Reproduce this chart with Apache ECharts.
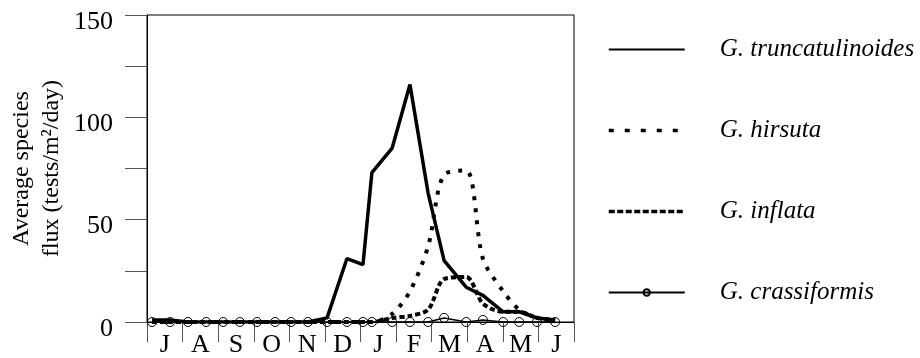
<!DOCTYPE html>
<html>
<head>
<meta charset="utf-8">
<script src="https://cdn.jsdelivr.net/npm/echarts@6/dist/echarts.min.js"></script>
<style>
  html, body { margin: 0; padding: 0; background: #fff; }
  #chart { width: 920px; height: 358px; }
</style>
</head>
<body>
<div id="chart"></div>
<script>
// month labels along the bottom (July .. June)
const months = ['J', 'A', 'S', 'O', 'N', 'D', 'J', 'F', 'M', 'A', 'M', 'J'];
// sampling times, in months since start of July
const sampleTimes = [0.14, 0.65, 1.15, 1.66, 2.14, 2.61, 3.09, 3.6, 4.05, 4.52, 5.06, 5.62,
  6.07, 6.32, 6.89, 7.39, 7.9, 8.35, 8.97, 9.44, 10.01, 10.46, 10.96, 11.47];
const truncatulinoides = [1, 1, 0, 0, 0, 0, 0, 0, 0, 0, 2, 31, 28, 73, 85, 116, 63, 30, 17, 13, 5, 5, 2, 1];
const hirsuta = [0, 0, 0, 0, 0, 0, 0, 0, 0, 0, 0, 0, 0, 0, 4, 15, 37, 72, 74, 31, 15, 6, 2, 0];
const inflata = [0, 0, 0, 0, 0, 0, 0, 0, 0, 0, 0, 0, 0, 0, 2, 3, 6, 21, 22, 9, 5, 5, 2, 1];
const crassiformis = [0, 0, 0, 0, 0, 0, 0, 0, 0, 0, 0, 0, 0, 0, 0, 0, 0, 2, 0, 1, 0, 0, 0, 0];
const yTicks = [0, 50, 100, 150];

const names = ['G. truncatulinoides', 'G. hirsuta', 'G. inflata', 'G. crassiformis'];
const font = 'Liberation Serif, Times New Roman, serif';

const pairs = vals => vals.map((v, i) => [sampleTimes[i], v]);

const chart = echarts.init(document.getElementById('chart'));

const seriesCommon = {
  type: 'line',
  xAxisIndex: 1,
  symbol: 'none',
  animation: false,
  color: '#000',
};
const noSymbol = { color: 'rgba(0,0,0,0)', borderWidth: 0, opacity: 0 };

chart.setOption({
  animation: false,
  grid: {
    left: 147, top: 15, right: 346, bottom: 36,
    outerBoundsMode: 'none',
    show: true, borderColor: '#000', borderWidth: 1,
  },
  legend: {
    orient: 'vertical',
    left: 607, top: 37,
    padding: 0,
    itemWidth: 76, itemHeight: 8, itemGap: 56,
    data: [
      { name: names[0], lineStyle: { width: 2 }, itemStyle: noSymbol },
      { name: names[1], lineStyle: { width: 3.5, type: [5, 11] }, itemStyle: noSymbol },
      { name: names[2], lineStyle: { width: 3.5, type: [6, 2.5] }, itemStyle: noSymbol },
      { name: names[3], lineStyle: { width: 2 } },
    ],
    formatter: n => '{g|}{t|' + n + '}',
    textStyle: {
      rich: {
        g: { width: 30 },
        t: { fontFamily: font, fontStyle: 'italic', fontSize: 25, color: '#000' },
      },
    },
  },
  xAxis: [
    {
      type: 'category',
      data: months,
      boundaryGap: true,
      axisLine: { lineStyle: { color: '#000', width: 1 } },
      axisTick: { show: true, length: 20, lineStyle: { color: '#555' } },
      axisLabel: { color: '#000', fontFamily: font, fontSize: 26, margin: 10 },
      splitLine: { show: false },
    },
    {
      type: 'value',
      min: 0, max: 12,
      show: false,
    },
  ],
  yAxis: {
    type: 'value',
    min: 0, max: 150, interval: 25,
    axisLine: { show: true, lineStyle: { color: '#000' } },
    axisTick: { show: true, length: 22, lineStyle: { color: '#555' } },
    axisLabel: {
      margin: 34,
      formatter: v => (yTicks.indexOf(v) >= 0 ? '{v|' + v + '}' : ''),
      rich: {
        v: { color: '#000', fontFamily: font, fontSize: 26, padding: [14, 0, 0, 0] },
      },
    },
    splitLine: { show: false },
    name: 'Average species\nflux (tests/m\u00b2/day)',
    nameLocation: 'middle',
    nameRotate: 90,
    nameGap: 80,
    nameTextStyle: { color: '#000', fontFamily: font, fontSize: 24, lineHeight: 30 },
  },
  series: [
    {
      ...seriesCommon,
      name: names[3],
      data: pairs(crassiformis),
      symbol: 'circle',
      symbolSize: 9,
      showAllSymbol: true,
      itemStyle: { color: 'rgba(0,0,0,0)', borderColor: '#000', borderWidth: 1 },
      lineStyle: { color: '#000', width: 1.5 },
      z: 2,
    },
    {
      ...seriesCommon,
      name: names[2],
      data: pairs(inflata),
      smooth: 0.3,
      lineStyle: { color: '#000', width: 4, type: [5, 3] },
      z: 3,
    },
    {
      ...seriesCommon,
      name: names[1],
      data: pairs(hirsuta),
      smooth: 0.3,
      lineStyle: { color: '#000', width: 4, type: [4, 8] },
      z: 4,
    },
    {
      ...seriesCommon,
      name: names[0],
      data: pairs(truncatulinoides),
      lineStyle: { color: '#000', width: 3.5 },
      z: 5,
    },
  ],
});
</script>
</body>
</html>
